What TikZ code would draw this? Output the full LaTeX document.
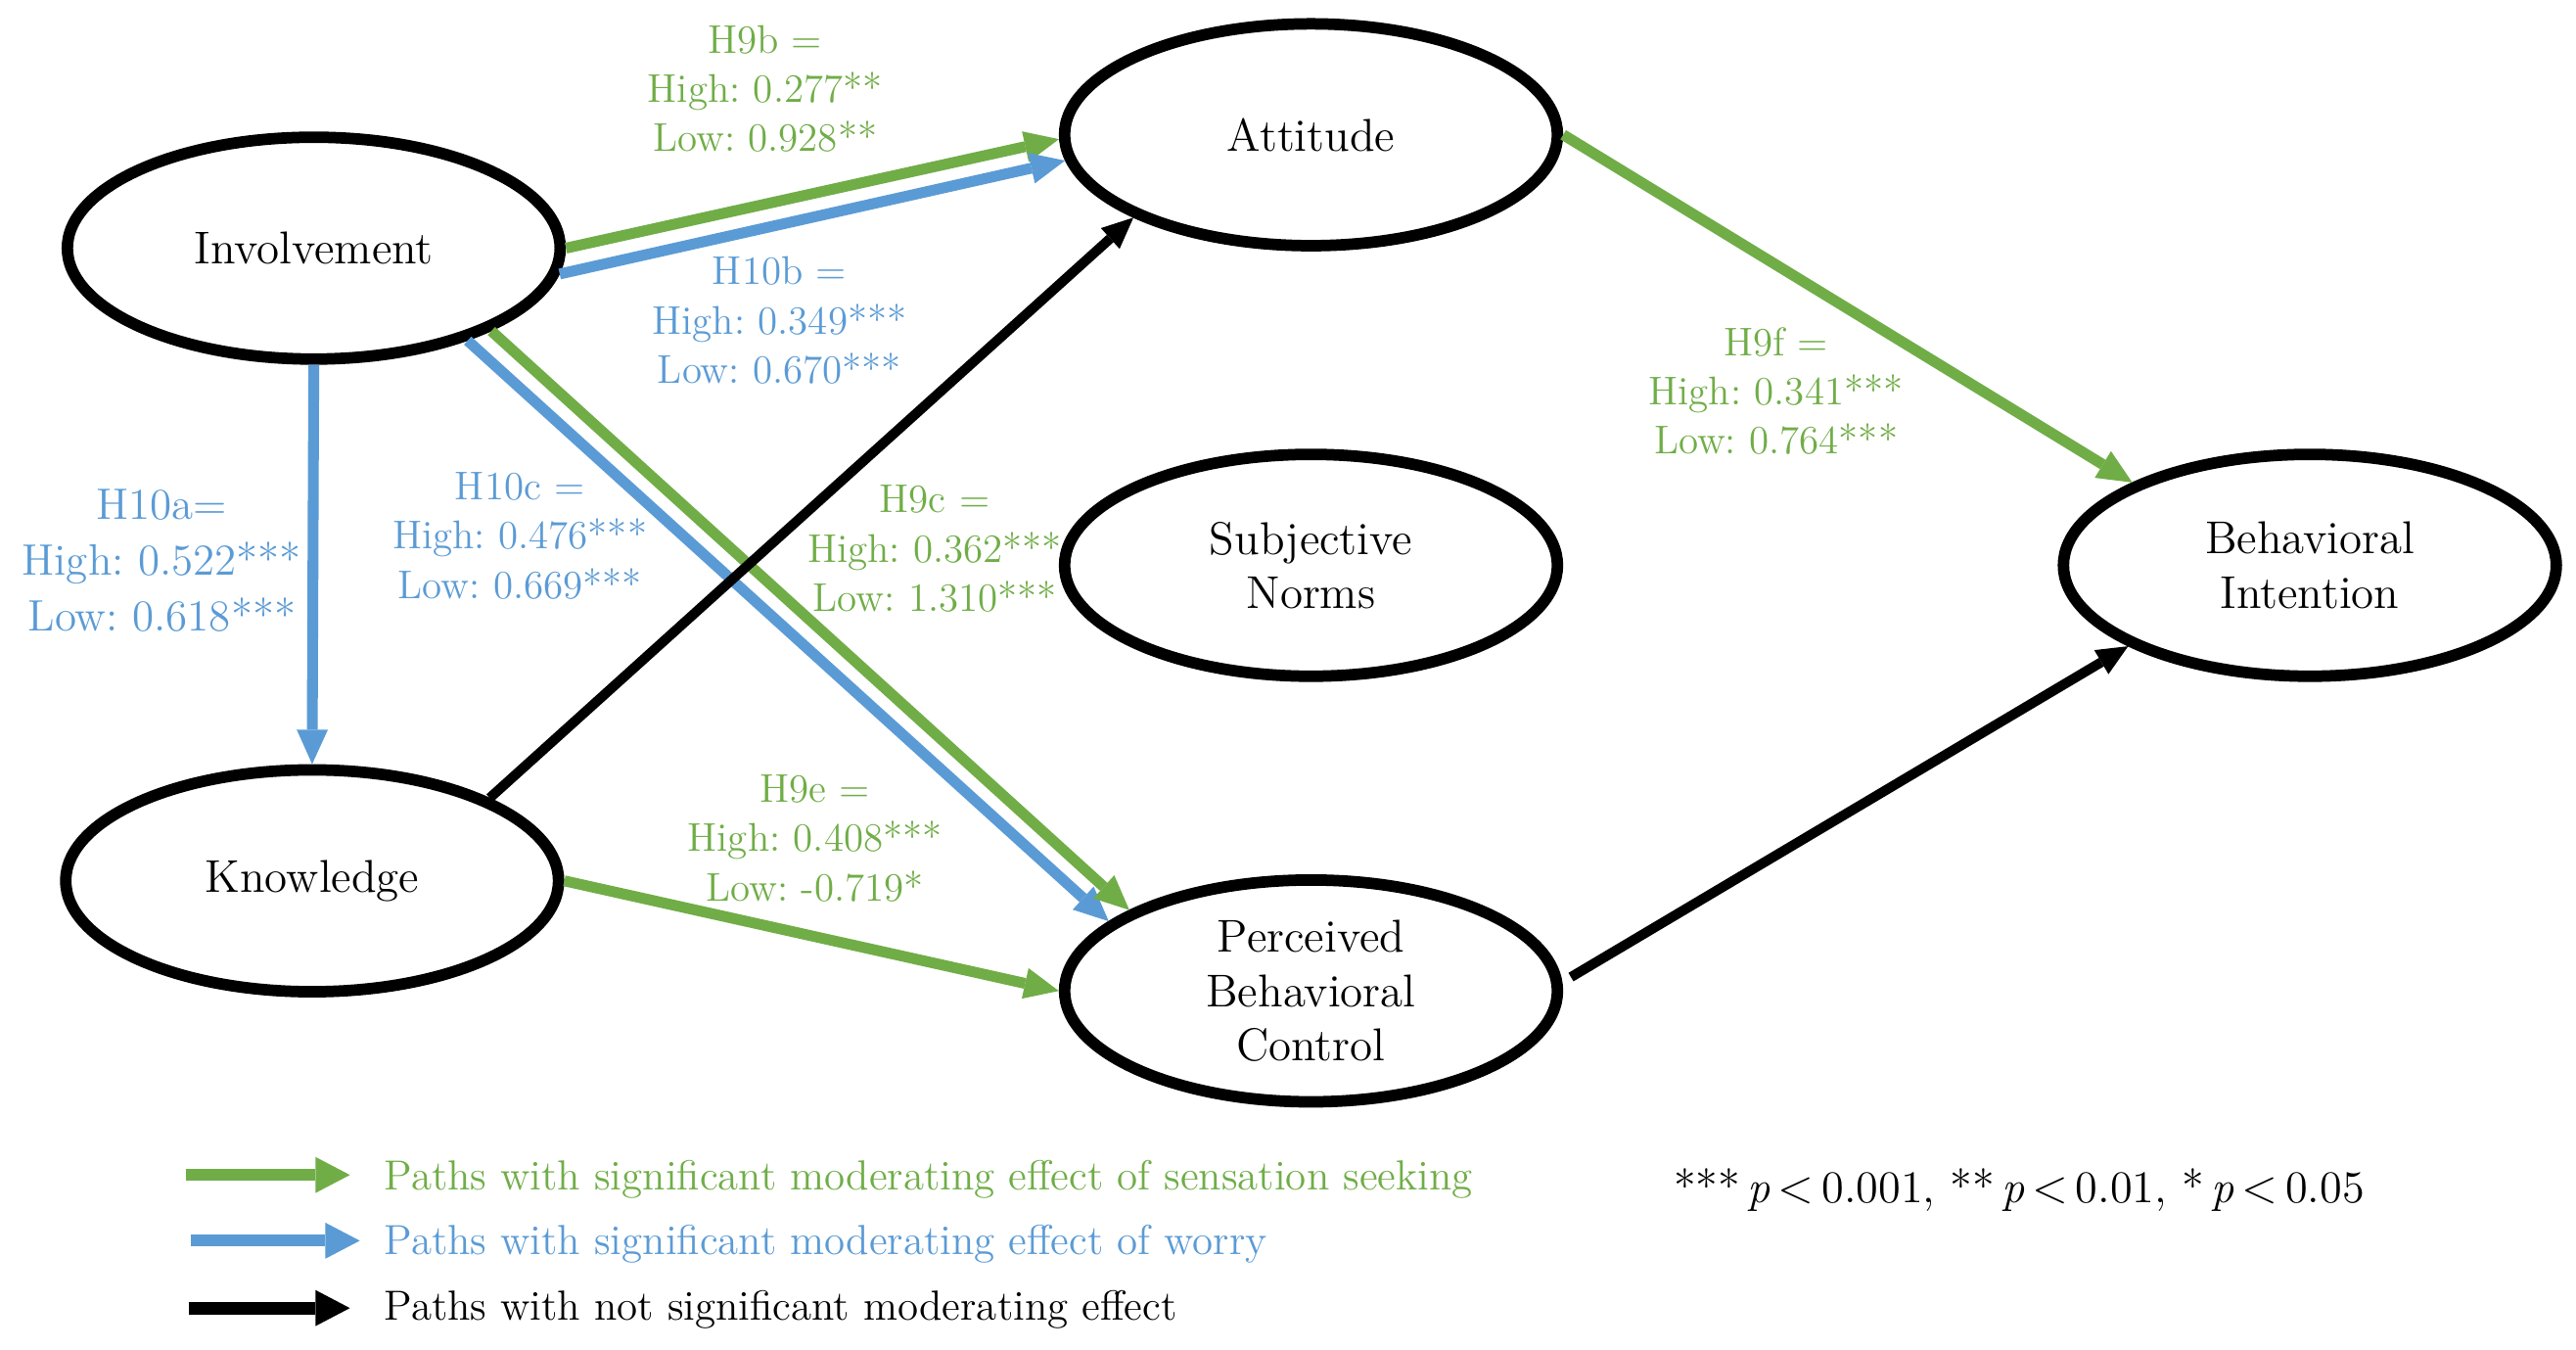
\documentclass[tikz,border=0pt]{standalone}
\usetikzlibrary{arrows.meta,shapes.geometric}
\definecolor{cgreen}{HTML}{70AD47}
\definecolor{cblue}{HTML}{5B9BD5}
\tikzset{
  construct/.style={ellipse, draw, line width=3.5pt, minimum width=150pt,
    minimum height=67.5pt, inner sep=0pt, align=center,
    font=\fontsize{14}{16.5}\selectfont},
  pathg/.style={draw=cgreen, line width=3.3pt,
    -{Triangle[length=10.5pt,width=9.5pt,line width=0pt]}},
  pathb/.style={draw=cblue, line width=3.3pt,
    -{Triangle[length=10.5pt,width=9.5pt,line width=0pt]}},
  pathk/.style={draw=black, line width=3pt,
    -{Triangle[length=9.5pt,width=8.5pt,line width=0pt]}},
  legg/.style={line width=3.6pt, -{Triangle[length=10.5pt,width=11pt,line width=0pt]}},
  glabel/.style={text=cgreen, align=center, inner sep=0pt,
    font=\fontsize{12.2}{15}\selectfont},
  blabel/.style={text=cblue, align=center, inner sep=0pt,
    font=\fontsize{12.2}{15}\selectfont},
  legtext/.style={anchor=west, inner sep=0pt, font=\fontsize{12.8}{15}\selectfont},
}
\begin{document}
\frenchspacing
\begin{tikzpicture}[x=0.5pt,y=-0.5pt]
\useasboundingbox (0,0) rectangle (1568,821.5);

% constructs
\node[construct] (inv) at (191,151) {Involvement};
\node[construct] (kn)  at (190,536) {Knowledge};
\node[construct] (att) at (798,82)  {Attitude};
\node[construct] (sn)  at (798,344) {Subjective\\Norms};
\node[construct] (bi)  at (1406,344) {Behavioral\\Intention};
\node[construct] (pbc) at (798,603) {Perceived\\Behavioral\\Control};

% paths
\draw[pathg] (inv.0) -- (att.181);
\draw[pathb] (inv.-6.4) -- (att.186.4);
\draw[pathb] (inv.-31.8) -- (pbc.161.4);
\draw[pathg] (inv.-25.7) -- (pbc.156.2);
\draw[pathb] (inv.south) -- (kn.north);
\draw[pathk] (kn.25.1) -- (att.205.5);
\draw[pathg] (kn.east) -- (pbc.west);
\draw[pathg] (att.east) -- (bi.155.4);
\draw[pathk, shorten <=3pt] (pbc.2) -- (bi.204);

% labels
\node[glabel] (h9b) at (465.7,54) {H9b =\\High: 0.277**\\Low: 0.928**};
\node[blabel] (h10b) at (474.5,195) {H10b =\\High: 0.349***\\Low: 0.670***};
\node[blabel, font=\fontsize{13.4}{17}\selectfont] (h10a) at (98.5,341) {H10a=\\High: 0.522***\\Low: 0.618***};
\node[blabel] (h10c) at (316.5,326) {H10c =\\High: 0.476***\\Low: 0.669***};
\node[glabel] (h9c) at (569,334) {H9c =\\High: 0.362***\\Low: 1.310***};
\node[glabel] (h9e) at (496,510) {H9e =\\High: 0.408***\\Low: -0.719*};
\node[glabel] (h9f) at (1081,238) {H9f =\\High: 0.341***\\Low: 0.764***};

% legend
\coordinate (lga) at (113,715);
\coordinate (lgb) at (213,715);
\coordinate (lba) at (116,755);
\coordinate (lbb) at (219,755);
\coordinate (lka) at (115,796);
\coordinate (lkb) at (213,796);
\draw[legg, draw=cgreen] (lga) -- (lgb);
\draw[legg, draw=cblue] (lba) -- (lbb);
\draw[legg, draw=black, line width=3.9pt] (lka) -- (lkb);
\node[legtext, text=cgreen] (ltg) at (233.5,718) {Paths with significant moderating effect of sensation seeking};
\node[legtext, text=cblue] (ltb) at (233.5,757) {Paths with significant moderating effect of worry};
\node[legtext] (ltk) at (233.5,797) {Paths with not significant moderating effect};

\node[inner sep=0pt, font=\fontsize{13.8}{16}\selectfont] (pv) at (1229,724)
  {***\,\textit{p}\,$<$\,0.001, **\,\textit{p}\,$<$\,0.01, *\,\textit{p}\,$<$\,0.05};
\end{tikzpicture}
\end{document}
